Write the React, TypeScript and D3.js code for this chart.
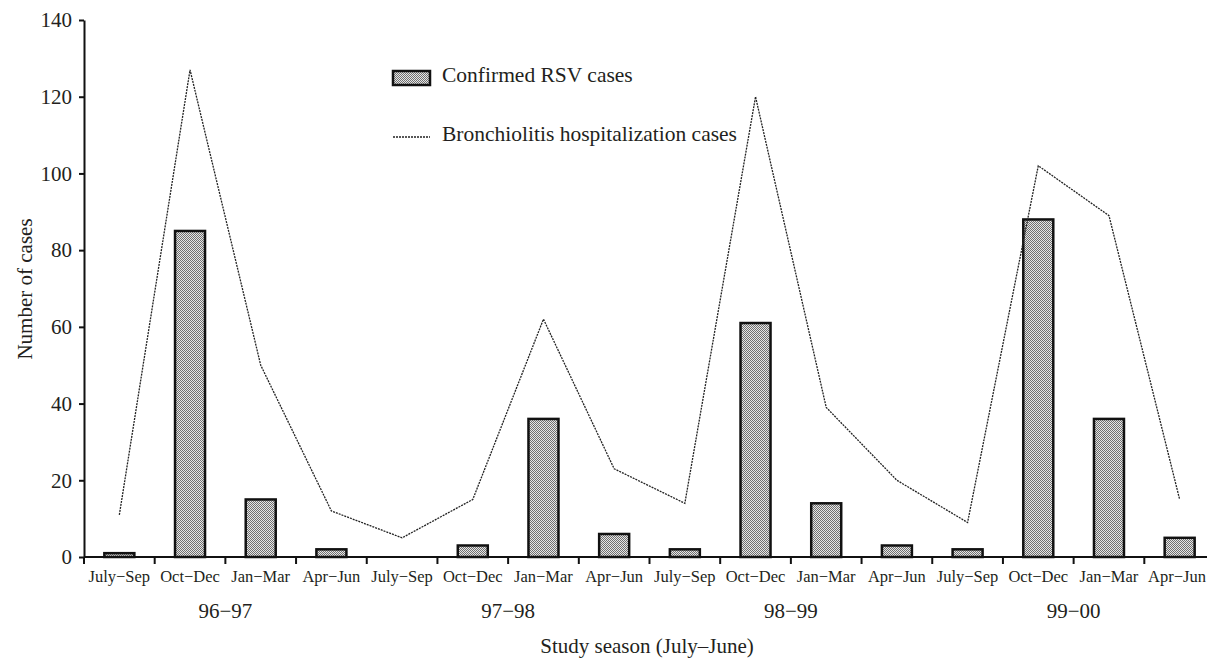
import React, { useEffect, useRef } from "react";
import * as d3 from "d3";

// quarters inside each study season
const quarters = ["July−Sep", "Oct−Dec", "Jan−Mar", "Apr−Jun"];
const seasons = ["96−97", "97−98", "98−99", "99−00"];

// confirmed RSV cases, one per quarter in order
const rsvCases = [1, 85, 15, 2, 0, 3, 36, 6, 2, 61, 14, 3, 2, 88, 36, 5];
// bronchiolitis hospitalisations, one per quarter in order
const bronchCases = [11, 127, 50, 12, 5, 15, 62, 23, 14, 120, 39, 20, 9, 102, 89, 15];

const yTicks = [0, 20, 40, 60, 80, 100, 120, 140];

const width = 1207;
const height = 658;
const margin = { top: 20, right: -8, bottom: 101, left: 84 };

const App = () => {
  const ref = useRef<SVGSVGElement>(null);

  useEffect(() => {
    const svg = d3.select(ref.current);
    svg.selectAll("*").remove();

    const innerW = width - margin.left - margin.right;
    const innerH = height - margin.top - margin.bottom;
    const ink = "#231f20";
    const font = "'Liberation Serif', 'Times New Roman', serif";

    // checker stipple for the bars
    const defs = svg.append("defs");
    const pat = defs.append("pattern")
      .attr("id", "stipple")
      .attr("width", 2).attr("height", 2)
      .attr("patternUnits", "userSpaceOnUse");
    pat.append("rect").attr("width", 2).attr("height", 2).attr("fill", "#e6e6e6");
    pat.append("rect").attr("x", 0).attr("y", 0).attr("width", 1).attr("height", 1).attr("fill", "#707070");
    pat.append("rect").attr("x", 1).attr("y", 1).attr("width", 1).attr("height", 1).attr("fill", "#707070");

    const labels = seasons.flatMap(s => quarters.map(q => `${s} ${q}`));
    const x = d3.scaleBand().domain(labels).range([0, innerW]).paddingInner(0).paddingOuter(0);
    const barW = 30;
    const y = d3.scaleLinear().domain([0, 140]).range([innerH, 0]);

    const g = svg.append("g").attr("transform", `translate(${margin.left},${margin.top})`);

    // bars
    g.selectAll("rect.bar").data(rsvCases).join("rect")
      .attr("class", "bar")
      .attr("x", (d, i) => x(labels[i])! + x.bandwidth() / 2 - barW / 2)
      .attr("y", d => y(d))
      .attr("width", barW)
      .attr("height", d => innerH - y(d))
      .attr("fill", "url(#stipple)")
      .attr("stroke", "#111")
      .attr("stroke-width", 2.5);

    // line
    const line = d3.line<number>()
      .x((d, i) => x(labels[i])! + x.bandwidth() / 2)
      .y(d => y(d));
    g.append("path")
      .datum(bronchCases)
      .attr("d", line)
      .attr("fill", "none")
      .attr("stroke", "#222")
      .attr("stroke-width", 1.3)
      .attr("stroke-dasharray", "2,1");

    // y axis
    const yAxis = g.append("g")
      .call(d3.axisLeft(y).tickValues(yTicks).tickSize(5).tickSizeOuter(0));
    yAxis.select(".domain").attr("stroke", "#111").attr("stroke-width", 2);
    yAxis.selectAll(".tick line").attr("stroke", "#111").attr("stroke-width", 2);
    yAxis.selectAll(".tick text")
      .attr("x", -12)
      .attr("font-family", font)
      .attr("font-size", 21)
      .attr("fill", ink);

    // x axis with ticks at band boundaries
    const xAxis = g.append("g").attr("transform", `translate(0,${innerH})`);
    xAxis.append("line")
      .attr("x1", 0).attr("x2", innerW)
      .attr("stroke", "#111").attr("stroke-width", 2);
    xAxis.selectAll("line.tk").data(labels).join("line")
      .attr("class", "tk")
      .attr("x1", d => x(d)!).attr("x2", d => x(d)!)
      .attr("y1", 0).attr("y2", 7)
      .attr("stroke", "#111").attr("stroke-width", 2);
    const lastX = width - margin.left - 1;
    xAxis.selectAll("text.ql").data(labels).join("text")
      .attr("class", "ql")
      .attr("x", (d, i) => i === labels.length - 1 ? lastX : x(d)! + x.bandwidth() / 2)
      .attr("y", 25)
      .attr("text-anchor", (d, i) => i === labels.length - 1 ? "end" : "middle")
      .attr("font-family", font)
      .attr("font-size", 16.5)
      .attr("fill", ink)
      .text((d, i) => quarters[i % 4]);
    xAxis.selectAll("text.sl").data(seasons).join("text")
      .attr("class", "sl")
      .attr("x", (d, i) => x(labels[i * 4])! + x.bandwidth() * 2)
      .attr("y", 61)
      .attr("text-anchor", "middle")
      .attr("font-family", font)
      .attr("font-size", 21)
      .attr("fill", ink)
      .text(d => d);

    // axis titles
    svg.append("text")
      .attr("x", 647).attr("y", 653)
      .attr("text-anchor", "middle")
      .attr("font-family", font).attr("font-size", 21).attr("fill", ink)
      .text("Study season (July–June)");
    svg.append("text")
      .attr("transform", `translate(32,289) rotate(-90)`)
      .attr("text-anchor", "middle")
      .attr("font-family", font).attr("font-size", 21).attr("fill", ink)
      .text("Number of cases");

    // legend
    const legend = svg.append("g").attr("transform", "translate(393,71)");
    legend.append("rect")
      .attr("width", 37).attr("height", 14)
      .attr("fill", "url(#stipple)").attr("stroke", "#111").attr("stroke-width", 2.5);
    legend.append("text")
      .attr("x", 49).attr("y", 11)
      .attr("font-family", font).attr("font-size", 21.5).attr("fill", ink)
      .text("Confirmed RSV cases");
    legend.append("line")
      .attr("x1", 0).attr("x2", 37).attr("y1", 66).attr("y2", 66)
      .attr("stroke", "#222").attr("stroke-width", 1.3).attr("stroke-dasharray", "2,1");
    legend.append("text")
      .attr("x", 49).attr("y", 70)
      .attr("font-family", font).attr("font-size", 21.5).attr("fill", ink)
      .text("Bronchiolitis hospitalization cases");
  }, []);

  return (
    <svg ref={ref} width={width} height={height}
      style={{ position: "absolute", left: 0, top: 0, background: "#fff" }} />
  );
};

export default App;
